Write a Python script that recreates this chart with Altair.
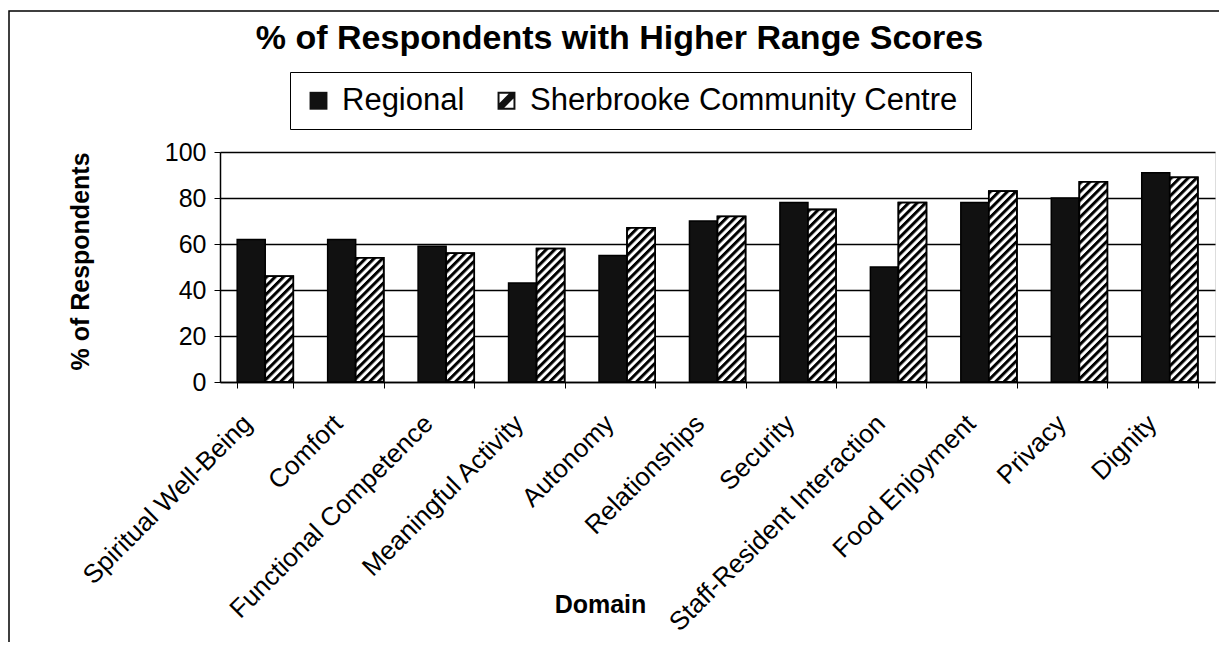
import base64
import altair as alt
import pandas as pd

domains = ["Spiritual Well-Being", "Comfort", "Functional Competence", "Meaningful Activity",
           "Autonomy", "Relationships", "Security", "Staff-Resident Interaction",
           "Food Enjoyment", "Privacy", "Dignity"]
regional = [62, 62, 59, 43, 55, 70, 78, 50, 78, 80, 91]
sherbrooke = [46, 54, 56, 58, 67, 72, 75, 78, 83, 87, 89]
series = ["Regional", "Sherbrooke Community Centre"]
y_ticks = [0, 20, 40, 60, 80, 100]

rows = []
for d, r, s in zip(domains, regional, sherbrooke):
    rows.append({"domain": d, "series": series[0], "value": r})
    rows.append({"domain": d, "series": series[1], "value": s})
df = pd.DataFrame(rows)

FONT = "Liberation Sans"

hatch_svg = (
    '<svg xmlns="http://www.w3.org/2000/svg" width="100%" height="100%">'
    '<defs><pattern id="h" width="6" height="6" patternUnits="userSpaceOnUse" '
    'patternTransform="rotate(45)">'
    '<rect width="6" height="6" fill="white"/><rect width="3" height="6" fill="black"/>'
    '</pattern></defs><rect width="100%" height="100%" fill="url(#h)"/></svg>'
)
hatch_url = "data:image/svg+xml;base64," + base64.b64encode(hatch_svg.encode()).decode()

hatch_symbol = ("M-1,-1L1,-1L1,1L-1,1Z "
                "M-0.78,-0.78L-0.78,0.25L0.25,-0.78Z "
                "M0.78,0.78L0.78,-0.25L-0.25,0.78Z")

x_enc = alt.X(
    "domain:N", sort=domains,
    scale=alt.Scale(paddingInner=0.38, paddingOuter=0.19),
    axis=alt.Axis(
        title="Domain", titleFont=FONT, titleFontSize=25, titleFontWeight="bold",
        titleColor="black", titleX=380, titleY=230, titleBaseline="alphabetic",
        labelAngle=-45, labelFont=FONT, labelFontSize=26, labelColor="black",
        labelPadding=22, labelOffset=-27, tickBand="extent", tickSize=6,
        tickColor="black", domainColor="black", domainWidth=1.5, grid=False,
        labelLimit=500,
    ),
)
xoff_enc = alt.XOffset("series:N", sort=series,
                       scale=alt.Scale(paddingInner=0, paddingOuter=0))
y_enc = alt.Y(
    "value:Q",
    scale=alt.Scale(domain=[0, 100], nice=False),
    axis=alt.Axis(
        title="% of Respondents", titleFont=FONT, titleFontSize=25,
        titleFontWeight="bold", titleColor="black", titleX=-127, titleY=109,
        values=y_ticks, labelFont=FONT, labelFontSize=25, labelColor="black",
        labelPadding=8, tickSize=6, tickColor="black", domainColor="black",
        domainWidth=1.5, grid=True, gridColor="black", gridWidth=1.4,
    ),
)

legend = alt.Legend(
    title=None, orient="none", legendX=70, legendY=-80,
    direction="horizontal", labelFont=FONT, labelFontSize=31,
    labelColor="black", labelLimit=800, symbolSize=320, columnPadding=26,
    labelOffset=8, strokeColor="black", padding=13,
    symbolOpacity=1, symbolStrokeWidth=0,
)
fill_enc = alt.Fill("series:N",
                    scale=alt.Scale(domain=series, range=["#111111", "#111111"]),
                    legend=legend)
shape_enc = alt.Shape("series:N",
                      scale=alt.Scale(domain=series, range=["square", hatch_symbol]),
                      legend=legend)

bars = alt.Chart(df).mark_bar(stroke="black", strokeWidth=1.5).encode(
    x=x_enc, xOffset=xoff_enc, y=y_enc, fill=fill_enc,
)

legend_pts = alt.Chart(df).mark_point(filled=True, opacity=0).encode(
    x=x_enc, xOffset=xoff_enc, y=y_enc, fill=fill_enc, shape=shape_enc,
)

hatch = alt.Chart(df).transform_filter(
    alt.datum.series == series[1]
).mark_image(aspect=False).encode(
    x=x_enc, xOffset=xoff_enc, y=y_enc, y2=alt.datum(0),
    url=alt.value(hatch_url),
)

outline = alt.Chart(df).transform_filter(
    alt.datum.series == series[1]
).mark_bar(fillOpacity=0, stroke="black", strokeWidth=1.8).encode(
    x=x_enc, xOffset=xoff_enc, y=y_enc,
)

frame = alt.Chart(pd.DataFrame({"k": [0]})).mark_rect(
    fillOpacity=0, stroke="black", strokeWidth=1.5
).encode(
    x=alt.value(-211), x2=alt.value(1002), y=alt.value(-141), y2=alt.value(520),
)

chart = alt.layer(frame, bars, hatch, outline, legend_pts).properties(
    width=995, height=230,
    autosize=alt.AutoSizeParams(type="none"),
    padding={"left": 212, "top": 144, "right": 4, "bottom": 260},
    title=alt.Title(
        "% of Respondents with Higher Range Scores", font=FONT, fontSize=34,
        fontWeight="bold", color="black", anchor="middle", dx=-98, offset=0,
        dy=73, baseline="alphabetic",
    ),
).configure_view(stroke="black", strokeWidth=1.6).configure(background="white")

chart.save("out.html", embed_options={"renderer": "svg", "actions": False})
